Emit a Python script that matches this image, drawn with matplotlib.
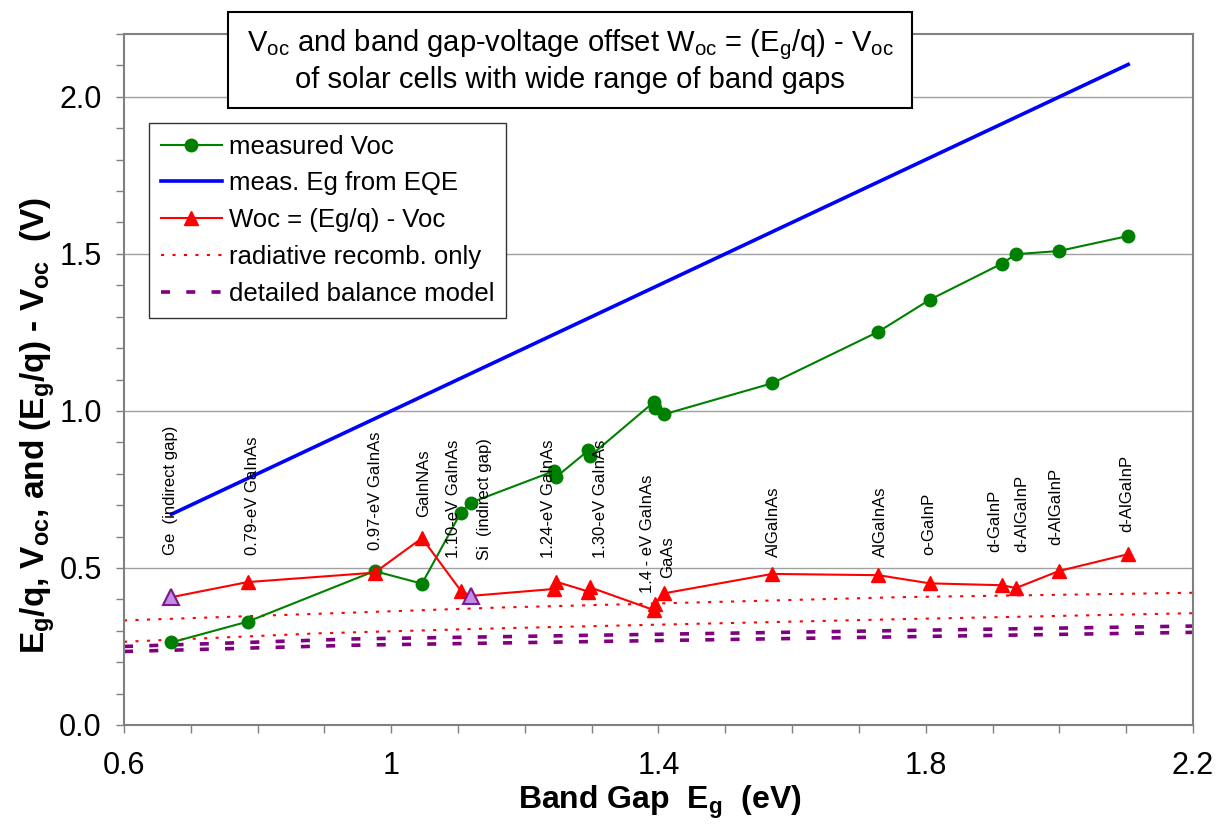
import matplotlib.pyplot as plt
from matplotlib.patches import Rectangle
from matplotlib.ticker import FixedLocator, MultipleLocator, FormatStrFormatter

plt.rcParams['font.family'] = ['Liberation Sans', 'DejaVu Sans']
plt.rcParams['mathtext.default'] = 'regular'

# Band gap (eV), measured Voc (V) and Woc = Eg/q - Voc (V) for each cell
eg = [0.671, 0.785, 0.975, 1.046, 1.104, 1.119, 1.243, 1.247, 1.295, 1.298,
      1.393, 1.395, 1.408, 1.570, 1.729, 1.806, 1.914, 1.935, 1.999, 2.103]
voc = [0.263, 0.329, 0.490, 0.450, 0.676, 0.708, 0.808, 0.790, 0.874, 0.857,
       1.028, 1.008, 0.989, 1.088, 1.252, 1.354, 1.469, 1.499, 1.509, 1.557]
woc = [0.407, 0.455, 0.485, 0.595, 0.428, 0.411, 0.433, 0.456, 0.425, 0.438,
       0.366, 0.386, 0.419, 0.481, 0.477, 0.451, 0.445, 0.436, 0.490, 0.544]
indirect = [0, 5]  # Ge, Si

# Limiting Woc curves
rad_eg_a = [0.6, 1.163, 1.762, 2.2]
rad_woc_a = [0.333, 0.374, 0.407, 0.421]
rad_eg_b = [0.6, 0.893, 1.163, 1.762, 2.2]
rad_woc_b = [0.265, 0.292, 0.308, 0.337, 0.356]
db_eg = [0.6, 0.943, 2.2]
db_woc_a = [0.250, 0.274, 0.315]
db_woc_b = [0.234, 0.254, 0.295]

# Cell names written above the points
cell_names = ['Ge  (indirect gap)', '0.79-eV GaInAs', '0.97-eV GaInAs', 'GaInNAs',
              '1.10-eV GaInAs', 'Si  (indirect gap)', '1.24-eV GaInAs', '1.30-eV GaInAs',
              '1.4 - eV GaInAs', 'GaAs', 'AlGaInAs', 'AlGaInAs', 'o-GaInP', 'd-GaInP',
              'd-AlGaInP', 'd-AlGaInP', 'd-AlGaInP']
name_x = [0.669, 0.792, 0.977, 1.049, 1.093, 1.139, 1.235, 1.313, 1.384, 1.414,
          1.572, 1.732, 1.804, 1.904, 1.944, 1.994, 2.101]
name_y = [0.541, 0.541, 0.557, 0.662, 0.532, 0.525, 0.532, 0.532, 0.420, 0.468,
          0.535, 0.535, 0.541, 0.551, 0.551, 0.573, 0.615]

x_ticks = [0.6, 1.0, 1.4, 1.8, 2.2]

W, H = 1223, 825
fig = plt.figure(figsize=(W / 100, H / 100), dpi=100)
ax = fig.add_axes([124 / W, 1 - 725 / H, 1069 / W, 691 / H])

ax.plot(eg, voc, color='#008000', lw=1.5, marker='o', ms=9, zorder=4,
        label='measured Voc')
ax.plot(eg, eg, color='#0000ff', lw=2.6, zorder=3, label='meas. Eg from EQE')
ax.plot(eg, woc, color='#ff0000', lw=1.5, marker='^', ms=10, zorder=4,
        label='Woc = (Eg/q) - Voc')
ax.plot([eg[i] for i in indirect], [woc[i] for i in indirect], ls='none',
        marker='^', ms=12, mfc='#c48ce6', mec='#7a1a8c', mew=1.5, zorder=5)

ax.plot(rad_eg_a, rad_woc_a, color='#ff0000', lw=1.5, dashes=(1.5, 4),
        label='radiative recomb. only')
ax.plot(rad_eg_b, rad_woc_b, color='#ff0000', lw=1.5, dashes=(1.5, 4))
ax.plot(db_eg, db_woc_a, color='#800080', lw=2.6, dashes=(2.5, 4.5),
        label='detailed balance model')
ax.plot(db_eg, db_woc_b, color='#800080', lw=2.6, dashes=(2.5, 4.5))

for name, x, y in zip(cell_names, name_x, name_y):
    ax.text(x, y, name, rotation=90, ha='center', va='bottom', fontsize=12,
            zorder=6)

ax.set_xlim(0.6, 2.2)
ax.set_ylim(0, 2.2)
ax.xaxis.set_major_locator(FixedLocator(x_ticks))
ax.xaxis.set_minor_locator(MultipleLocator(0.1))
ax.xaxis.set_major_formatter(FormatStrFormatter('%g'))
ax.yaxis.set_major_locator(MultipleLocator(0.5))
ax.yaxis.set_minor_locator(MultipleLocator(0.1))
ax.yaxis.set_major_formatter(FormatStrFormatter('%.1f'))
ax.tick_params(which='both', direction='out', length=6, width=1, color='#808080',
               labelsize=22)
ax.tick_params(axis='x', pad=13)
ax.tick_params(axis='y', pad=10)
ax.grid(axis='y', which='major', color='#a0a0a0', lw=1)
for s in ax.spines.values():
    s.set_color('#808080')
    s.set_linewidth(1.5)

ax.set_xlabel('Band Gap  E$_g$  (eV)', fontsize=23, fontweight='bold')
ax.xaxis.set_label_coords(0.501, -0.085)
ax.set_ylabel('E$_g$/q, V$_{oc}$, and (E$_g$/q) - V$_{oc}$  (V)', fontsize=24,
              fontweight='bold', va='center')
ax.yaxis.set_label_coords(-0.081, 0.433)

leg = ax.legend(loc='upper left', bbox_to_anchor=(149 / W, 1 - 123 / H),
                bbox_transform=fig.transFigure, borderaxespad=0, fontsize=18.5,
                handlelength=2.4, handletextpad=0.25, labelspacing=0.5,
                borderpad=0.45, numpoints=1, fancybox=False, framealpha=1)
leg.get_frame().set_edgecolor('#333333')
leg.get_frame().set_linewidth(1)
leg.set_zorder(10)

# Title box
fig.patches.append(Rectangle((228 / W, 1 - 108 / H), 684 / W, 96 / H,
                             transform=fig.transFigure, fc='white', ec='black',
                             lw=1.5, zorder=10))
fig.text(570 / W, 1 - 45 / H,
         'V$_{oc}$ and band gap-voltage offset W$_{oc}$ = (E$_g$/q) - V$_{oc}$',
         ha='center', va='center', fontsize=21, zorder=11)
fig.text(570 / W, 1 - 80 / H, 'of solar cells with wide range of band gaps',
         ha='center', va='center', fontsize=21, zorder=11)

fig.savefig('out.png', dpi=100)
